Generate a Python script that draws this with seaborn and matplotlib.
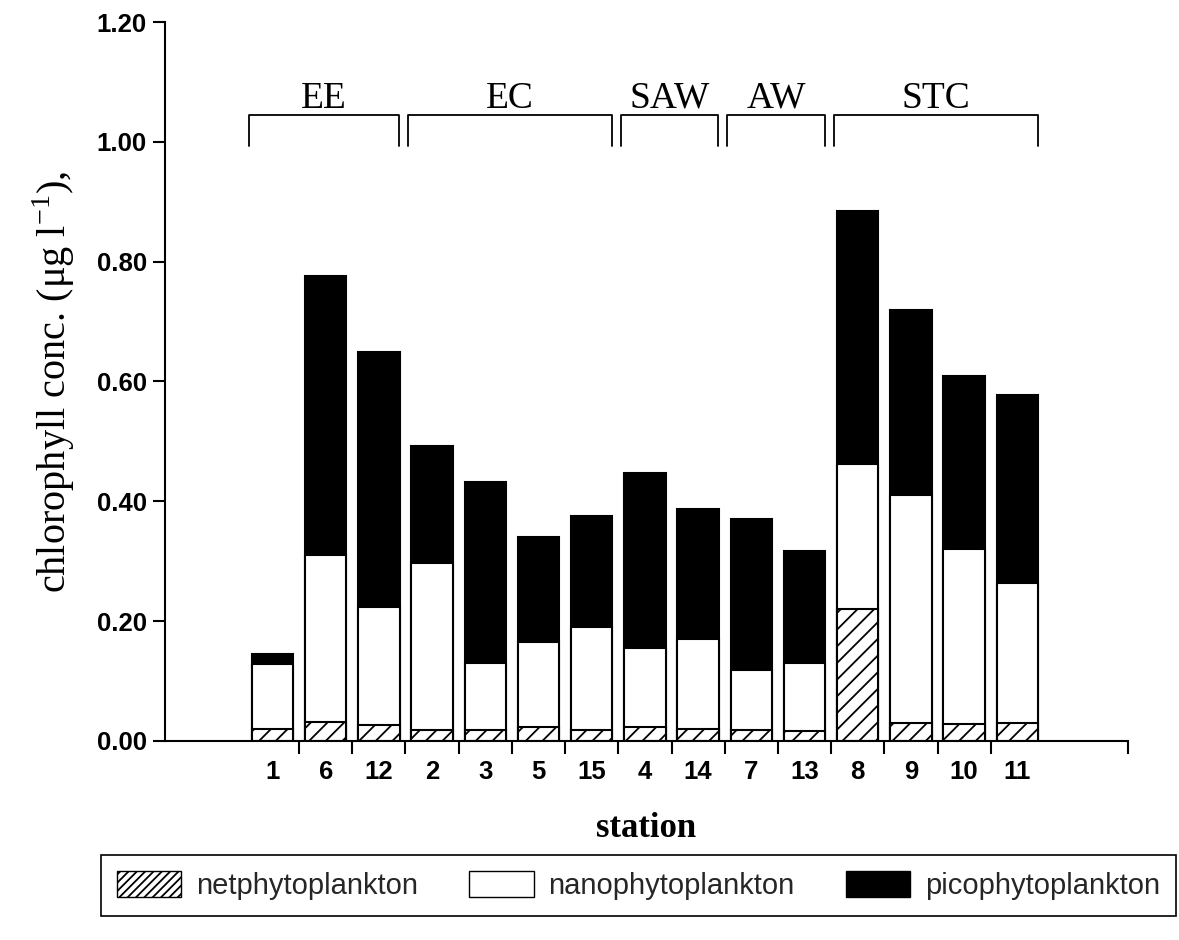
import matplotlib
matplotlib.use("Agg")
import matplotlib.pyplot as plt
import seaborn as sns
import pandas as pd
import numpy as np
from matplotlib.patches import Patch

stations = ['1', '6', '12', '2', '3', '5', '15', '4', '14', '7', '13', '8', '9', '10', '11']
net = [0.020, 0.032, 0.026, 0.018, 0.018, 0.023, 0.018, 0.023, 0.020, 0.019, 0.016, 0.220, 0.030, 0.028, 0.030]
nano = [0.108, 0.278, 0.197, 0.279, 0.112, 0.143, 0.173, 0.132, 0.150, 0.100, 0.114, 0.242, 0.380, 0.292, 0.233]
pico = [0.018, 0.466, 0.427, 0.196, 0.302, 0.174, 0.184, 0.292, 0.217, 0.252, 0.187, 0.423, 0.310, 0.290, 0.314]
groups = ['EE', 'EC', 'SAW', 'AW', 'STC']
group_sizes = [3, 4, 2, 2, 4]
yticks = [0.0, 0.2, 0.4, 0.6, 0.8, 1.0, 1.2]
series_names = ['netphytoplankton', 'nanophytoplankton', 'picophytoplankton']

sns.set_theme(style="white")
plt.rcParams['hatch.linewidth'] = 1.3
plt.rcParams['hatch.color'] = 'black'

df = pd.DataFrame({'station': stations, 'net': net, 'nano': nano, 'pico': pico})
df['c_nano'] = df['net'] + df['nano']
df['c_total'] = df['c_nano'] + df['pico']

fig = plt.figure(figsize=(11.79, 9.40), dpi=100)
ax = fig.add_axes([165/1179, 1 - 741/940, (1128 - 165)/1179, (741 - 22)/940])

W = 0.78
sns.barplot(data=df, x='station', y='c_total', order=stations, color='black',
            edgecolor='black', linewidth=1.5, width=W, saturation=1, ax=ax)
sns.barplot(data=df, x='station', y='c_nano', order=stations, color='white',
            edgecolor='black', linewidth=1.5, width=W, saturation=1, ax=ax)
sns.barplot(data=df, x='station', y='net', order=stations, color='white',
            edgecolor='black', linewidth=1.5, width=W, saturation=1, hatch='//', ax=ax)

ax.set_xlim(-2.02, 16.08)
ax.set_ylim(0, 1.2)
ax.set_yticks(yticks)
ax.set_yticklabels([f"{v:.2f}" for v in yticks])
for sp in ['top', 'right']:
    ax.spines[sp].set_visible(False)
for sp in ['left', 'bottom']:
    ax.spines[sp].set_color('black')
    ax.spines[sp].set_linewidth(1.5)

ax.set_xticks(range(len(stations)))
ax.set_xticklabels(stations)
ax.set_xticks(list(np.arange(0.5, len(stations) - 1, 1.0)) + [16.08], minor=True)
ax.tick_params(axis='x', which='major', length=0, pad=14)
ax.tick_params(axis='x', which='minor', direction='out', length=9, width=1.5, color='black', bottom=True)
ax.tick_params(axis='y', which='major', direction='out', length=9, width=1.5, color='black', left=True, pad=4)
for lab in ax.get_xticklabels() + ax.get_yticklabels():
    lab.set_fontfamily('Liberation Sans')
    lab.set_fontweight('bold')
    lab.set_fontsize(18.5)
    lab.set_color('black')

ax.set_xlabel('station', family='Liberation Serif', fontsize=25, fontweight='bold', labelpad=20, color='black')
ax.set_ylabel('chlorophyll conc. (μg l$^{\\mathregular{-1}}$),', family='Liberation Serif', fontsize=29,
              labelpad=14, color='black')

# group brackets
start = 0
for g, n in zip(groups, group_sizes):
    x0 = start - 0.45
    x1 = start + n - 1 + 0.38
    ax.plot([x0, x0, x1, x1], [0.993, 1.045, 1.045, 0.993], color='black', lw=1.3, clip_on=False)
    ax.text((x0 + x1) / 2, 1.057, g, ha='center', va='baseline', family='Liberation Serif',
            fontsize=27, color='black')
    start += n

handles = [Patch(facecolor='white', edgecolor='black', hatch='////', label=series_names[0]),
           Patch(facecolor='white', edgecolor='black', label=series_names[1]),
           Patch(facecolor='black', edgecolor='black', label=series_names[2])]
leg = fig.legend(handles=handles, loc='lower left',
                 bbox_to_anchor=(101/1179, 1 - 916/940, (1176 - 101)/1179, 0.06), mode='expand',
                 ncol=3, frameon=True, fancybox=False, framealpha=1, handlelength=2.2, handleheight=0.95,
                 columnspacing=1.0, handletextpad=0.5, borderpad=0.55, borderaxespad=0,
                 prop={'family': 'Liberation Sans', 'size': 21})
leg.get_frame().set_edgecolor('black')
leg.get_frame().set_linewidth(1.2)

fig.savefig('out.png', dpi=100)
